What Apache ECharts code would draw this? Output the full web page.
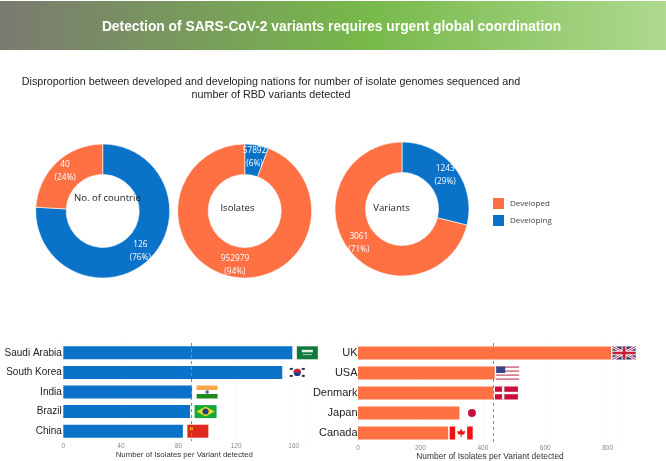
<!DOCTYPE html>
<html><head><meta charset="utf-8">
<style>html,body{margin:0;padding:0;background:#fff}#c{width:666px;height:461px}</style>
<script src="https://cdn.jsdelivr.net/npm/echarts@6/dist/echarts.min.js"></script>
</head><body><div id="c"></div>
<script>
const headerTitle = 'Detection of SARS-CoV-2 variants requires urgent global coordination';
const subLine1 = 'Disproportion between developed and developing nations for number of isolate genomes sequenced and';
const subLine2 = 'number of RBD variants detected';
const groupNames = ['Developing', 'Developed'];
const legendOrder = ['Developed', 'Developing'];
const countries = [126, 40];
const isolates = [57892, 952979];
const variants = [1243, 3061];
const leftCountries = ['Saudi Arabia', 'South Korea', 'India', 'Brazil', 'China'];
const leftValues = [159, 152, 89.4, 88, 83];
const leftFlags = ['sa', 'kr', 'in', 'br', 'cn'];
const leftMean = 89;
const rightCountries = ['UK', 'USA', 'Denmark', 'Japan', 'Canada'];
const rightValues = [811, 438, 434, 325, 289];
const rightFlags = ['uk', 'us', 'dk', 'jp', 'ca'];
const rightMean = 433;
const xName = 'Number of Isolates per Variant detected';

const BLUE = '#0a72c8', ORANGE = '#ff7043';
const FONT = '"Liberation Sans", Arial, sans-serif';
const chart = echarts.init(document.getElementById('c'), null, {renderer: 'canvas'});

function pie(values, center) {
  const total = values[0] + values[1];
  return {
    type: 'pie', center, radius: [36.5, 67], startAngle: 90, clockwise: true, animation: false, silent: true,
    itemStyle: {borderColor: '#fff', borderWidth: 0.6},
    label: {
      position: 'inside', color: '#fff', fontSize: 8.3, lineHeight: 13, fontFamily: '"Open Sans", sans-serif',
      formatter: p => p.value + '\n(' + Math.round(p.value / total * 100) + '%)'
    },
    labelLine: {show: false},
    data: [
      {name: groupNames[0], value: values[0], itemStyle: {color: BLUE}},
      {name: groupNames[1], value: values[1], itemStyle: {color: ORANGE}}
    ]
  };
}

function r(x, y, w, h, fill) { return {type: 'rect', shape: {x, y, width: w, height: h}, style: {fill}}; }
function c(x, y, rad, fill) { return {type: 'circle', shape: {cx: x, cy: y, r: rad}, style: {fill}}; }
function flagShapes(code) {
  switch (code) {
    case 'sa': return [r(0,0,21,13,'#0f7a3c'), r(5,3.5,11,2.5,'#dff0e4'), r(6,8,9,0.8,'#cfe6d6')];
    case 'kr': return [r(0,0,21,13,'#fff'), c(10.5,6.5,3.6,'#1b3f8f'),
      {type:'sector',shape:{cx:10.5,cy:6.5,r:3.6,startAngle:Math.PI,endAngle:2*Math.PI},style:{fill:'#cf2035'}},
      r(3,2,3,2,'#333'), r(15,2,3,2,'#333'), r(3,9,3,2,'#333'), r(15,9,3,2,'#333')];
    case 'in': return [r(0,0,21,4.5,'#ffa646'), r(0,4.5,21,4,'#fff'), r(0,8.5,21,4.5,'#1f8a22'), c(10.5,6.5,1.7,'#4a5aa0')];
    case 'br': return [r(0,0,22,13,'#15a83a'),
      {type:'polygon',shape:{points:[[11,1.5],[20,6.5],[11,11.5],[2,6.5]]},style:{fill:'#ecd91f'}}, c(11,6.5,3,'#1f3d86')];
    case 'cn': return [r(0,0,21,13,'#de2a1c'), c(4,4,1.6,'#f5d21f')];
    case 'uk': {
      const line = (a,b,e,f,col,w)=>({type:'line',shape:{x1:a,y1:b,x2:e,y2:f},style:{stroke:col,lineWidth:w}});
      return [r(0,0,23,13,'#24386f'), line(0,0,23,13,'#fff',2.6), line(23,0,0,13,'#fff',2.6),
        line(0,0,23,13,'#c8203a',1), line(23,0,0,13,'#c8203a',1),
        r(9,0,5,13,'#fff'), r(0,4.2,23,4.6,'#fff'), r(10,0,3,13,'#c8203a'), r(0,5.2,23,2.6,'#c8203a')];
    }
    case 'us': {
      const s = [r(0,0,23,13,'#fff')];
      [0,2,4,6].forEach(i => s.push(r(0,i*2,23,1.2,'#c4455a')));
      s.push(r(0,0,9,6.5,'#36468c'));
      return s;
    }
    case 'dk': return [r(0,0,23,13,'#c8103e'), r(7,0,2.4,13,'#fff'), r(0,5.3,23,2.4,'#fff')];
    case 'jp': return [r(0,0,22,13,'#fff'), c(11,6.5,4,'#c8103e')];
    case 'ca': return [r(0,0,23,13,'#fff'), r(0,0,5.5,13,'#ee1111'), r(17.5,0,5.5,13,'#ee1111'),
      {type:'polygon',shape:{points:[[11.5,2],[13,5],[15.5,4.5],[14.5,8],[12,8],[12,10.5],[11,10.5],[11,8],[8.5,8],[7.5,4.5],[10,5]]},style:{fill:'#ee1111'}}];
  }
  return [];
}
function flagSeries(values, flags, gap, xi) {
  return {
    type: 'custom', xAxisIndex: xi, yAxisIndex: xi, silent: true, animation: false, clip: false, z: 3,
    encode: {x: 0, y: 1},
    data: values.map((v, i) => [v, i]),
    renderItem: (params, api) => {
      const p = api.coord([api.value(0), api.value(1)]);
      return {type: 'group', x: p[0] + gap, y: p[1] - 6.5, children: flagShapes(flags[params.dataIndex])};
    }
  };
}
function barSeries(values, color, mean, xi) {
  return {
    type: 'bar', xAxisIndex: xi, yAxisIndex: xi, data: values, barWidth: 13, silent: true, animation: false,
    itemStyle: {color},
    markLine: {
      silent: true, symbol: 'none', animation: false, label: {show: false},
      lineStyle: {color: '#8a8a8a', type: [3, 3], width: 1},
      data: [{xAxis: mean}]
    }
  };
}
function xAxis(gridIndex, max, interval, nameGap) {
  return {
    type: 'value', gridIndex, min: 0, max, interval, name: xName, nameLocation: 'middle', nameGap,
    nameTextStyle: {fontSize: gridIndex ? 8.4 : 7.8, color: '#333', fontFamily: FONT},
    axisLine: {show: false}, axisTick: {show: false},
    axisLabel: {fontSize: 6.5, color: '#888', margin: 2, showMaxLabel: false, fontFamily: FONT},
    splitLine: {show: true, lineStyle: {color: '#f7f7f7', width: 0.6}}
  };
}
function yAxis(gridIndex, data, size, margin) {
  return {
    type: 'category', gridIndex, data, inverse: true,
    axisLine: {show: false}, axisTick: {show: false}, splitLine: {show: false},
    axisLabel: {fontSize: size, color: '#222', margin, fontFamily: FONT}
  };
}
function txt(text, x, y, size, color, align) {
  return {type: 'text', x, y, silent: true, z: 10,
    style: {text, fill: color, font: size + 'px ' + FONT, textAlign: align, textVerticalAlign: 'middle'}};
}
const OS = '"Open Sans", sans-serif';
function inner(text, x, y, align) {
  return {type: 'text', x, y, silent: true, z: 10,
    style: {text, fill: '#222', font: '9.6px ' + OS, textAlign: align, textVerticalAlign: 'middle'}};
}

chart.setOption({
  animation: false,
  backgroundColor: '#fff',
  legend: {
    data: legendOrder, orient: 'vertical', left: 491, top: 196, padding: 0, itemWidth: 13, itemHeight: 13, itemGap: 2,
    icon: 'rect', selectedMode: false, textStyle: {fontSize: 8, color: '#444', fontFamily: OS}
  },
  grid: [
    {left: 63.3, width: 242, top: 343, height: 98, containLabel: false, outerBoundsMode: 'none'},
    {left: 358, width: 264, top: 343, height: 100, containLabel: false, outerBoundsMode: 'none'}
  ],
  xAxis: [xAxis(0, 168, 40, 10), xAxis(1, 846, 200, 10)],
  yAxis: [yAxis(0, leftCountries, 10, 1.5), yAxis(1, rightCountries, 11, 0.5)],
  series: [
    pie(countries, [102.7, 211]),
    pie(isolates, [244.7, 211]),
    pie(variants, [402, 209]),
    barSeries(leftValues, BLUE, leftMean, 0),
    barSeries(rightValues, ORANGE, rightMean, 1),
    flagSeries(leftValues, leftFlags, 4.5, 0),
    flagSeries(rightValues, rightFlags, 1.5, 1)
  ],
  graphic: [
    {type: 'rect', z: -1, silent: true, shape: {x: 0, y: 1, width: 666, height: 49},
      style: {fill: new echarts.graphic.LinearGradient(0, 0.3, 1, 0.7, [
        {offset: 0, color: '#7a7a70'}, {offset: 0.55, color: '#77b94a'}, {offset: 1, color: '#aed98f'}])}},
    txt(headerTitle, 331.5, 27, 'bold 13.8', '#fff', 'center'),
    txt(subLine1, 271, 82, 10.75, '#222', 'center'),
    txt(subLine2, 271, 95, 10.75, '#222', 'center'),
    inner('No. of countrie', 74, 198, 'left'),
    inner('Isolates', 237.5, 208, 'center'),
    inner('Variants', 391.5, 208, 'center')
  ]
});
</script></body></html>
